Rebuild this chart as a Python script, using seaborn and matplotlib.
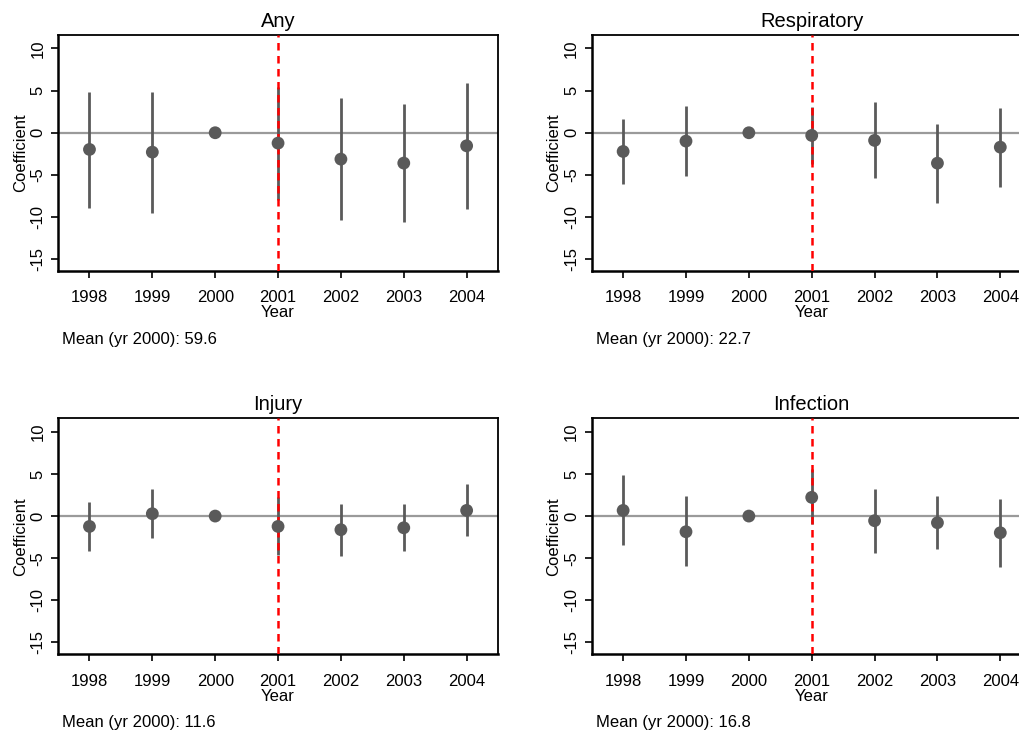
import numpy as np
import pandas as pd
import seaborn as sns
from matplotlib import pyplot as plt

# event-study coefficients
years = [1998, 1999, 2000, 2001, 2002, 2003, 2004]
panels = ["Any", "Respiratory", "Injury", "Infection"]
means = ["59.6", "22.7", "11.6", "16.8"]

any_coef = [-1.98, -2.30, 0.0, -1.23, -3.13, -3.60, -1.55]
any_lo = [-8.93, -9.50, np.nan, -7.94, -10.40, -10.60, -9.05]
any_hi = [4.80, 4.80, np.nan, 5.40, 4.09, 3.41, 5.87]

resp_coef = [-2.22, -0.99, 0.0, -0.32, -0.91, -3.61, -1.71]
resp_lo = [-6.07, -5.12, np.nan, -3.73, -5.36, -8.29, -6.47]
resp_hi = [1.63, 3.13, np.nan, 3.10, 3.61, 1.07, 2.98]

inj_coef = [-1.23, 0.28, 0.0, -1.23, -1.62, -1.39, 0.67]
inj_lo = [-4.16, -2.65, np.nan, -4.56, -4.68, -4.16, -2.42]
inj_hi = [1.66, 3.25, np.nan, 2.30, 1.39, 1.47, 3.84]

inf_coef = [0.67, -1.86, 0.0, 2.22, -0.55, -0.79, -1.98]
inf_lo = [-3.45, -5.98, np.nan, -0.99, -4.40, -3.96, -6.06]
inf_hi = [4.91, 2.34, np.nan, 5.55, 3.25, 2.34, 2.06]

coefs = [any_coef, resp_coef, inj_coef, inf_coef]
los = [any_lo, resp_lo, inj_lo, inf_lo]
his = [any_hi, resp_hi, inj_hi, inf_hi]

sns.set_style("ticks")
plt.rcParams['font.family'] = ['Liberation Sans', 'DejaVu Sans']
plt.rcParams['text.color'] = 'black'
plt.rcParams['axes.labelcolor'] = 'black'
plt.rcParams['xtick.color'] = 'black'
plt.rcParams['ytick.color'] = 'black'

fig = plt.figure(figsize=(10.2, 7.3), dpi=100)

# axes boxes in figure fraction (right column runs past the image edge)
lefts = [0.0569, 0.5801, 0.0569, 0.5801]
bottoms = [0.6288, 0.6288, 0.1037, 0.1037]
w, h = 0.4314, 0.3233

pt_color = "#5a5a5a"

for i, name in enumerate(panels):
    ax = fig.add_axes([lefts[i], bottoms[i], w, h])
    df = pd.DataFrame({"Year": years, "coef": coefs[i], "lo": los[i], "hi": his[i]})

    ax.axhline(0, color="#9a9a9a", lw=1.6, zorder=1)
    ci = df.dropna()
    ax.vlines(ci["Year"], ci["lo"], ci["hi"], color=pt_color, lw=2.0, zorder=2)
    ax.axvline(2001, color="red", lw=1.8, ls=(0, (3, 2.2)), zorder=3)
    sns.scatterplot(data=df, x="Year", y="coef", ax=ax, color=pt_color,
                    s=85, edgecolor="none", zorder=4, legend=False)

    ax.set_xlim(1997.5, 2004.5)
    ax.set_ylim(-16.4, 11.6)
    ax.set_xticks(years)
    ax.set_xticklabels([str(y) for y in years], fontsize=12)
    ax.set_yticks([-15, -10, -5, 0, 5, 10])
    ax.set_yticklabels(["-15", "-10", "-5", "0", "5", "10"], fontsize=12,
                       rotation=90, va="center")
    ax.tick_params(axis="both", direction="out", length=5, width=1.2, color="black")
    ax.tick_params(axis="x", pad=9)
    ax.tick_params(axis="y", pad=4)

    for side in ["left", "bottom"]:
        ax.spines[side].set_linewidth(1.8)
        ax.spines[side].set_color("black")
    for side in ["top", "right"]:
        ax.spines[side].set_visible(True)
        ax.spines[side].set_linewidth(1.3)
        ax.spines[side].set_color("black")

    ax.set_title(name, fontsize=14.5, pad=6)
    ax.set_xlabel("Year", fontsize=12, labelpad=0)
    ax.set_ylabel("Coefficient", fontsize=12, labelpad=2)
    ax.text(0.009, -0.29, "Mean (yr 2000): " + means[i], transform=ax.transAxes,
            fontsize=12, ha="left", va="center")

fig.savefig("out.png", dpi=100)
